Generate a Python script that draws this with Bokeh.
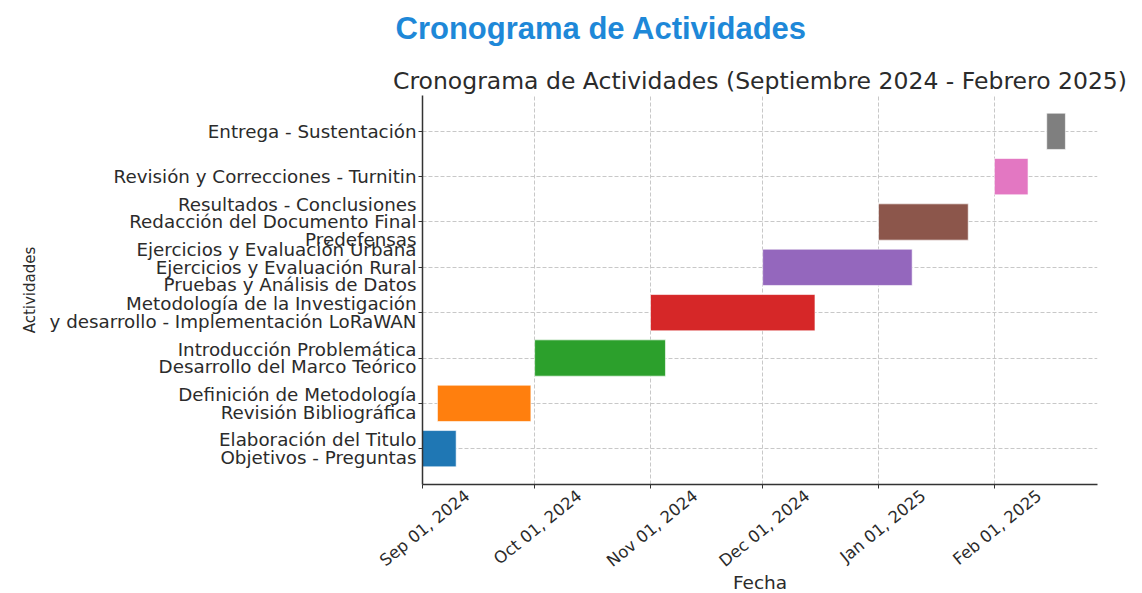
import math
from datetime import datetime, timedelta
from bokeh.plotting import figure
from bokeh.models import (Range1d, FixedTicker, ColumnDataSource, Title)
from bokeh.embed import file_html
from bokeh.resources import INLINE

# ---- data ----
actividades = [
    "Elaboración del Titulo\nObjetivos - Preguntas",
    "Definición de Metodología\nRevisión Bibliográfica",
    "Introducción Problemática\nDesarrollo del Marco Teórico",
    "Metodología de la Investigación\ny desarrollo - Implementación LoRaWAN",
    "Ejercicios y Evaluación Urbana\nEjercicios y Evaluación Rural\nPruebas y Análisis de Datos",
    "Resultados - Conclusiones\nRedacción del Documento Final\nPredefensas",
    "Revisión y Correcciones - Turnitin",
    "Entrega - Sustentación",
]
inicio = ["2024-09-01", "2024-09-05", "2024-10-01", "2024-11-01",
          "2024-12-01", "2025-01-01", "2025-02-01", "2025-02-15"]
fin = ["2024-09-10", "2024-09-30", "2024-11-05", "2024-12-15",
       "2025-01-10", "2025-01-25", "2025-02-10", "2025-02-20"]
colores = ["#1f77b4", "#ff7f0e", "#2ca02c", "#d62728",
           "#9467bd", "#8c564b", "#e377c2", "#7f7f7f"]
meses = ["2024-09-01", "2024-10-01", "2024-11-01",
         "2024-12-01", "2025-01-01", "2025-02-01"]
meses_labels = ["Sep 01, 2024", "Oct 01, 2024", "Nov 01, 2024",
                "Dec 01, 2024", "Jan 01, 2025", "Feb 01, 2025"]

EPOCH = datetime(1970, 1, 1)


def to_ms(d):
    return int((d - EPOCH).total_seconds() * 1000)


start = [datetime.strptime(s, "%Y-%m-%d") for s in inicio]
end = [datetime.strptime(s, "%Y-%m-%d") for s in fin]
idx = list(range(len(actividades)))

src = ColumnDataSource(dict(y=idx, left=start, right=end, color=colores))

FONT = "DejaVu Sans"
TXT = "#2b2b2b"

x0 = datetime(2024, 9, 1)
x1 = datetime(2025, 2, 28, 14)
y0, y1 = -0.79, 7.79
FRAME_H = 389

p = figure(frame_width=675, frame_height=FRAME_H, output_backend="svg",
           toolbar_location=None, x_axis_type="datetime",
           x_range=Range1d(x0, x1), y_range=Range1d(y0, y1))
p.min_border_left = 422
p.min_border_right = 37
p.min_border_top = 95
p.min_border_bottom = 100
p.outline_line_color = None
p.background_fill_color = "white"
p.border_fill_color = "white"

p.hbar(y="y", left="left", right="right", height=0.8, fill_color="color",
       line_color="white", line_width=1, line_alpha=0.6, source=src)

# header (outermost title)
p.title.text = "Cronograma de Actividades"
p.title.align = "left"
p.title.offset = -27
p.title.text_font = "Liberation Sans"
p.title.text_font_size = "31px"
p.title.text_font_style = "bold"
p.title.text_color = "#1e88d8"
p.title.standoff = 12

# "above" panels: first added sits closest to the frame
inner = Title(text="Cronograma de Actividades (Septiembre 2024 - Febrero 2025)",
              align="center", text_font=FONT, text_font_size="23.5px",
              text_font_style="normal", text_color=TXT, standoff=1)
p.add_layout(inner, "above")
spacer = Title(text=" ", text_font_size="10px", standoff=0)
p.add_layout(spacer, "above")

# x axis: labels centred under the month ticks (matplotlib style)
month_dt = [datetime.strptime(s, "%Y-%m-%d") for s in meses]
shift = timedelta(days=12)
lab_pos = [to_ms(d + shift) for d in month_dt]
xa = p.xaxis[0]
xa.ticker = FixedTicker(ticks=lab_pos, minor_ticks=[to_ms(d) for d in month_dt])
xa.major_label_overrides = {k: t for k, t in zip(lab_pos, meses_labels)}
xa.major_label_orientation = math.radians(39)
xa.major_label_standoff = 5
xa.major_label_text_font_size = "16.5px"
xa.major_tick_line_color = None
xa.major_tick_out = 0
xa.minor_tick_line_color = "#333333"
xa.minor_tick_out = 4
xa.minor_tick_in = 0
xa.axis_label = "Fecha"
xa.axis_label_text_font_size = "18.5px"
xa.axis_label_standoff = -9

# y axis: one tick label per text line, tick marks drawn as "minor" ticks
LINE_PX = 17.5
line_du = LINE_PX * (y1 - y0) / FRAME_H
pos, overrides = [], {}
for i, txt in zip(idx, actividades):
    lines = txt.split("\n")
    n = len(lines)
    for k, ln in enumerate(lines):
        yv = round(i + ((n - 1) / 2 - k) * line_du, 4)
        pos.append(yv)
        overrides[yv] = ln

ya = p.yaxis[0]
ya.ticker = FixedTicker(ticks=pos, minor_ticks=idx)
ya.major_label_overrides = overrides
ya.major_tick_line_color = None
ya.major_tick_out = 0
ya.minor_tick_line_color = "#333333"
ya.minor_tick_out = 4
ya.minor_tick_in = 0
ya.major_label_standoff = 2
ya.major_label_text_font_size = "18.3px"
ya.axis_label = "Actividades"
ya.axis_label_text_font_size = "15px"
ya.axis_label_standoff = 8

for ax in (xa, ya):
    ax.major_label_text_font = FONT
    ax.major_label_text_color = TXT
    ax.axis_label_text_font = FONT
    ax.axis_label_text_font_style = "normal"
    ax.axis_label_text_color = TXT
    ax.axis_line_color = "#333333"
    ax.axis_line_width = 1.5

p.xgrid.ticker = FixedTicker(ticks=[to_ms(d) for d in month_dt])
p.ygrid.ticker = FixedTicker(ticks=idx)
for g in (p.xgrid[0], p.ygrid[0]):
    g.grid_line_color = "#c8c8c8"
    g.grid_line_dash = "4 2"
    g.grid_line_width = 1

open("out.html", "w").write(file_html(p, INLINE))
